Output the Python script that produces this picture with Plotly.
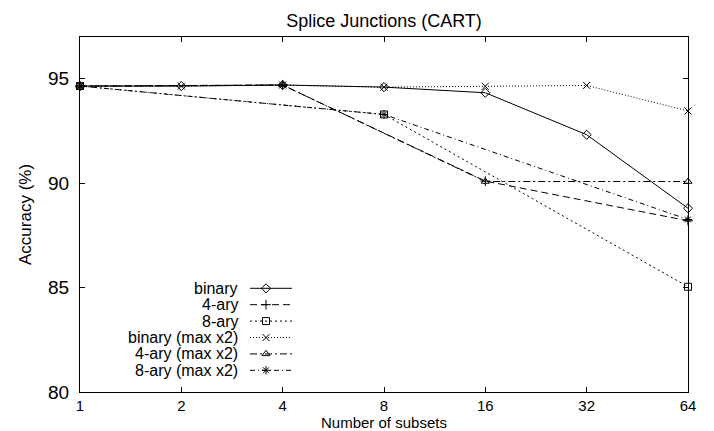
import numpy as np
import plotly.graph_objects as go

# Number of subsets (log2 scale)
subsets_all = [1, 2, 4, 8, 16, 32, 64]
subsets_4 = [1, 4, 16, 64]
subsets_8 = [1, 8, 64]
tick_labels = ["1", "2", "4", "8", "16", "32", "64"]

# Accuracy (%) per scheme
binary = [94.65, 94.65, 94.7, 94.6, 94.33, 92.32, 88.8]
ary4 = [94.65, 94.7, 90.1, 88.2]
ary8 = [94.65, 93.29, 85.04]
binary_max2 = [94.65, 94.65, 94.7, 94.6, 94.64, 94.68, 93.46]
ary4_max2 = [94.65, 94.7, 90.08, 90.08]
ary8_max2 = [94.65, 93.29, 88.26]

series_names = ["binary", "4-ary", "8-ary", "binary (max x2)", "4-ary (max x2)", "8-ary (max x2)"]

FONT = "Liberation Sans, Arial, Helvetica, sans-serif"
W, H = 714, 431
L, R, T, B = 80, 688, 37, 392  # plot frame in pixels


def px_to_paper(px, py):
    """Convert a pixel position on the page to paper coordinates."""
    return (px - L) / (R - L), (B - py) / (B - T)


styles = [
    dict(dash="solid", symbol="diamond-open"),
    dict(dash="7px,4px", symbol="cross-thin-open"),
    dict(dash="2px,3px", symbol="square-open"),
    dict(dash="1px,2px", symbol="x-thin-open"),
    dict(dash="7px,3px,2px,3px", symbol="triangle-up-open"),
    dict(dash="5px,3px,1px,3px", symbol="asterisk-open"),
]
series = [
    (subsets_all, binary),
    (subsets_4, ary4),
    (subsets_8, ary8),
    (subsets_all, binary_max2),
    (subsets_4, ary4_max2),
    (subsets_8, ary8_max2),
]

fig = go.Figure()

for name, (xs, ys), st in zip(series_names, series, styles):
    fig.add_trace(go.Scatter(
        x=xs, y=ys, name=name, mode="lines+markers",
        line=dict(color="black", width=1, dash=st["dash"]),
        marker=dict(symbol=st["symbol"], size=7, color="black",
                    line=dict(color="black", width=1)),
        cliponaxis=False, showlegend=False,
    ))

# Key drawn inside the frame, labels right-aligned before each sample line
key_text_right = 240
key_line = (250, 292)
key_marker_x = 266
key_y0, key_dy = 288.3, 16.4
annotations = []
for i, (name, st) in enumerate(zip(series_names, styles)):
    yk = key_y0 + i * key_dy
    fig.add_trace(go.Scatter(
        x=list(key_line), y=[yk, yk], xaxis="x2", yaxis="y2", mode="lines",
        line=dict(color="black", width=1, dash=st["dash"]),
        showlegend=False, hoverinfo="skip",
    ))
    fig.add_trace(go.Scatter(
        x=[key_marker_x], y=[yk], xaxis="x2", yaxis="y2", mode="markers",
        marker=dict(symbol=st["symbol"], size=7, color="black",
                    line=dict(color="black", width=1)),
        showlegend=False, hoverinfo="skip",
    ))
    annotations.append(dict(
        x=key_text_right, y=yk, xref="x2", yref="y2", text=name,
        xanchor="right", yanchor="middle", showarrow=False,
        font=dict(family=FONT, size=16, color="black"),
    ))

# Axis titles
xt, yt = px_to_paper((L + R) / 2, 422.5)
annotations.append(dict(
    x=xt, y=yt, xref="paper", yref="paper", text="Number of subsets",
    xanchor="center", yanchor="middle", showarrow=False,
    font=dict(family=FONT, size=15, color="black"),
))
xt, yt = px_to_paper(25, 215)
annotations.append(dict(
    x=xt, y=yt, xref="paper", yref="paper", text="Accuracy (%)", textangle=-90,
    xanchor="center", yanchor="middle", showarrow=False,
    font=dict(family=FONT, size=17, color="black"),
))

axis_common = dict(
    showline=True, linecolor="black", linewidth=1, mirror="ticks",
    ticks="inside", ticklen=5, tickcolor="black", tickwidth=1,
    showgrid=False, zeroline=False,
)

fig.update_layout(
    width=W, height=H,
    margin=dict(l=L, r=W - R, t=T, b=H - B, pad=0),
    paper_bgcolor="white", plot_bgcolor="white",
    title=dict(text="Splice Junctions (CART)", x=0.5, xref="paper",
               y=1 - 20.7 / H, yref="container", xanchor="center", yanchor="middle",
               font=dict(family=FONT, size=18, color="black")),
    xaxis=dict(type="log", range=[0, np.log10(64)], tickvals=subsets_all,
               ticktext=tick_labels, ticklabelstandoff=0,
               tickfont=dict(family=FONT, size=15, color="black"), **axis_common),
    yaxis=dict(range=[80, 97], tickvals=[80, 85, 90, 95], ticklabelstandoff=6,
               tickfont=dict(family=FONT, size=19, color="black"), **axis_common),
    xaxis2=dict(overlaying="x", range=[L, R], visible=False),
    yaxis2=dict(overlaying="y", range=[B, T], visible=False),
    annotations=annotations,
    showlegend=False,
)

fig.write_html("out.html")
